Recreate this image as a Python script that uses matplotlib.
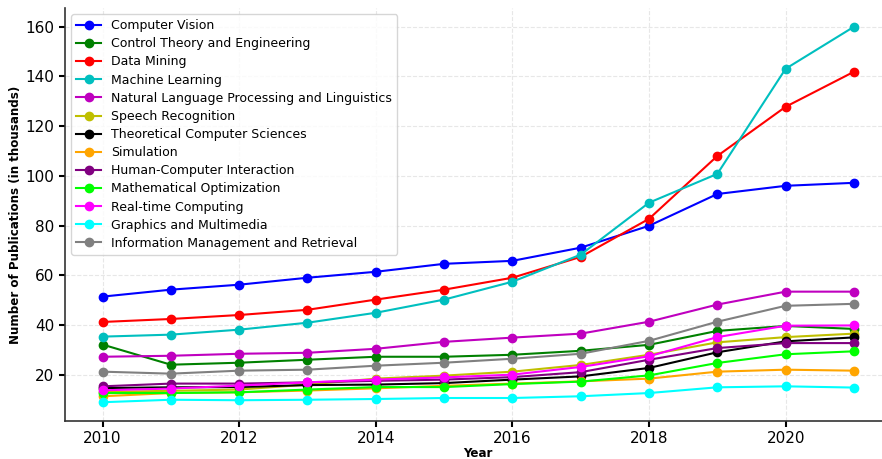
import matplotlib
matplotlib.use("Agg")
import matplotlib.pyplot as plt

years = list(range(2010, 2022))

computer_vision = [51.4, 54.2, 56.2, 59.0, 61.4, 64.6, 65.8, 71.1, 79.9, 92.7, 96.0, 97.2]
control_theory = [32.1, 24.0, 24.8, 26.0, 27.2, 27.2, 28.0, 29.6, 32.0, 37.6, 39.6, 38.4]
data_mining = [41.2, 42.4, 44.0, 46.1, 50.2, 54.2, 59.0, 67.4, 82.7, 108.0, 127.8, 141.9]
machine_learning = [35.3, 36.1, 38.1, 40.9, 44.9, 50.2, 57.4, 68.3, 89.2, 100.8, 143.1, 160.0]
nlp = [27.2, 27.6, 28.4, 28.8, 30.4, 33.2, 34.9, 36.5, 41.3, 48.2, 53.4, 53.4]
speech = [13.0, 13.5, 14.0, 16.0, 18.4, 19.6, 21.2, 23.9, 28.0, 33.0, 35.1, 36.5]
theoretical_cs = [14.6, 14.9, 15.0, 15.8, 16.0, 16.6, 18.0, 19.3, 22.7, 29.0, 33.4, 35.0]
simulation = [11.3, 12.6, 12.9, 13.6, 14.5, 15.5, 16.4, 17.3, 18.4, 21.2, 22.0, 21.6]
hci = [15.3, 16.4, 16.4, 16.9, 17.5, 18.0, 19.0, 21.0, 26.0, 30.7, 32.7, 32.7]
math_opt = [12.6, 12.6, 12.9, 14.0, 15.0, 15.0, 16.2, 17.2, 19.7, 24.7, 28.2, 29.4]
realtime = [13.7, 14.4, 15.6, 16.9, 18.0, 18.9, 20.0, 23.1, 27.4, 35.1, 39.7, 39.8]
graphics = [8.9, 9.9, 9.7, 9.9, 10.2, 10.6, 10.6, 11.3, 12.6, 14.9, 15.3, 14.8]
info_mgmt = [21.2, 20.4, 21.6, 22.0, 23.6, 24.8, 26.4, 28.4, 33.6, 41.3, 47.7, 48.5]

series = [
    ("Computer Vision", computer_vision, "b"),
    ("Control Theory and Engineering", control_theory, "g"),
    ("Data Mining", data_mining, "r"),
    ("Machine Learning", machine_learning, "c"),
    ("Natural Language Processing and Linguistics", nlp, "m"),
    ("Speech Recognition", speech, "y"),
    ("Theoretical Computer Sciences", theoretical_cs, "k"),
    ("Simulation", simulation, "orange"),
    ("Human-Computer Interaction", hci, "purple"),
    ("Mathematical Optimization", math_opt, "lime"),
    ("Real-time Computing", realtime, "magenta"),
    ("Graphics and Multimedia", graphics, "cyan"),
    ("Information Management and Retrieval", info_mgmt, "gray"),
]

fig = plt.figure(figsize=(8.82, 4.59), dpi=100)
ax = fig.add_axes([65 / 882, 38 / 459, 826.5 / 882, 413 / 459])

for name, values, color in series:
    ax.plot(years, values, marker="o", markersize=6, linewidth=1.5,
            color=color, label=name)

ax.grid(True, linestyle="--", color="#dddddd", linewidth=0.8, alpha=0.7)
ax.set_axisbelow(True)
for side in ["top", "right"]:
    ax.spines[side].set_visible(False)
for side in ["left", "bottom"]:
    ax.spines[side].set_color("#333333")
    ax.spines[side].set_linewidth(1.2)

ax.tick_params(axis="both", labelsize=11, length=4, width=1.5, color="black")
ax.set_xticks([2010, 2012, 2014, 2016, 2018, 2020])
ax.set_xlabel("Year", fontsize=8.6, fontweight="bold", labelpad=0.5)
ax.set_ylabel("Number of Publications (in thousands)", fontsize=8.6,
              fontweight="bold", labelpad=2.5)

ax.legend(loc="upper left", fontsize=9, frameon=True, borderaxespad=0.5,
          handlelength=2.0, labelspacing=0.41)

fig.savefig("out.png", dpi=100)
